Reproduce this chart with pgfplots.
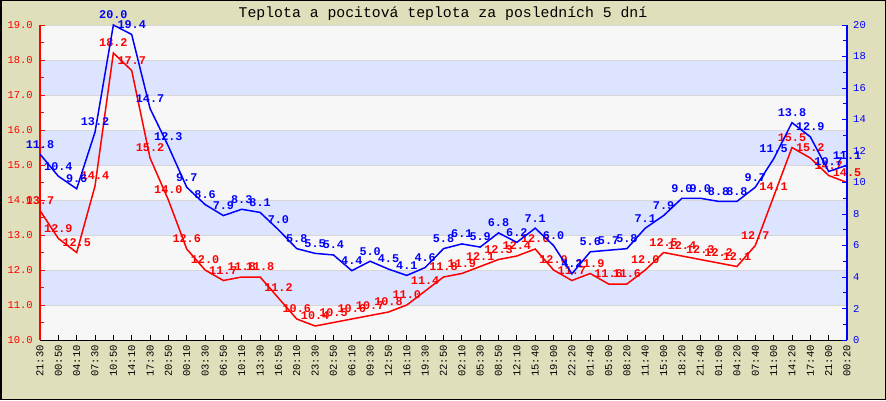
\documentclass[border=0pt]{standalone}
\usepackage{pgfplots}
\usepackage{pgfplotstable}
\pgfplotsset{compat=1.18}
\usepackage{fontspec}
\setmainfont{Liberation Mono}
\definecolor{bgk}{RGB}{224,223,187}
\definecolor{bandblue}{RGB}{221,228,255}
\definecolor{bandgray}{RGB}{247,247,247}
\definecolor{gridg}{RGB}{215,215,215}
\newcommand\tickfont{\fontsize{10.5}{11}\selectfont}
\newcommand\lblfont{\fontsize{11.8}{12}\selectfont\bfseries}

\pgfplotstableread{
x r b
0 13.7 11.8
1 12.9 10.4
2 12.5 9.6
3 14.4 13.2
4 18.2 20.0
5 17.7 19.4
6 15.2 14.7
7 14.0 12.3
8 12.6 9.7
9 12.0 8.6
10 11.7 7.9
11 11.8 8.3
12 11.8 8.1
13 11.2 7.0
14 10.6 5.8
15 10.4 5.5
16 10.5 5.4
17 10.6 4.4
18 10.7 5.0
19 10.8 4.5
20 11.0 4.1
21 11.4 4.6
22 11.8 5.8
23 11.9 6.1
24 12.1 5.9
25 12.3 6.8
26 12.4 6.2
27 12.6 7.1
28 12.0 6.0
29 11.7 4.2
30 11.9 5.6
31 11.6 5.7
32 11.6 5.8
33 12.0 7.1
34 12.5 7.9
35 12.4 9.0
36 12.3 9.0
37 12.2 8.8
38 12.1 8.8
39 12.7 9.7
40 14.1 11.5
41 15.5 13.8
42 15.2 12.9
43 14.7 10.7
44 14.5 11.1
}\datatable

\begin{document}
\begin{tikzpicture}
\path[use as bounding box] (0,0) rectangle (886pt,400pt);
\fill[bgk] (0,0) rectangle (886pt,400pt);
\draw[black,line width=1.5pt] (0.75pt,0.75pt) rectangle (885.25pt,399.25pt);
\node[font=\fontsize{14.8}{15}\selectfont] at (443pt,386pt) {Teplota a pocitová teplota za posledních 5 dní};

\begin{axis}[
  at={(40pt,60pt)}, anchor=south west, scale only axis,
  width=807pt, height=315pt,
  xmin=0, xmax=44, ymin=10, ymax=19,
  clip=false, axis on top,
  axis background/.style={fill=bandgray},
  axis x line*=bottom, axis y line*=left,
  x axis line style={black,line width=1pt},
  y axis line style={red,line width=1.6pt},
  xtick={0,...,44},
  xticklabels={21:30,00:50,04:10,07:30,10:50,14:10,17:30,20:50,00:10,03:30,06:50,10:10,13:30,16:50,20:10,23:30,02:50,06:10,09:30,12:50,16:10,19:30,22:50,02:10,05:30,08:50,12:10,15:40,19:00,22:20,01:40,05:00,08:20,11:40,15:00,18:20,21:40,01:00,04:20,07:40,11:00,14:20,17:40,21:00,00:20},
  xticklabel style={rotate=90, anchor=east, font=\tickfont, inner sep=0pt},
  xticklabel shift=5pt,
  tick align=inside, major tick length=5pt, minor tick length=4pt,
  xtick style={black, line width=0.8pt},
  ytick={10,...,19}, minor y tick num=1,
  ytick style={red, line width=0.8pt},
  yticklabel style={red, font=\tickfont, inner sep=0pt,
    /pgf/number format/.cd, fixed, fixed zerofill, precision=1},
  yticklabel shift=7pt,
  /pgf/number format/assume math mode=true,
]
\fill[bandblue] (axis cs:0,11) rectangle (axis cs:44,12);
\fill[bandblue] (axis cs:0,13) rectangle (axis cs:44,14);
\fill[bandblue] (axis cs:0,15) rectangle (axis cs:44,16);
\fill[bandblue] (axis cs:0,17) rectangle (axis cs:44,18);
\pgfplotsinvokeforeach{11,...,19}{\draw[gridg, line width=0.8pt] (axis cs:0,#1) -- (axis cs:44,#1);}
\addplot[red, line width=1.5pt, mark=none,
  nodes near coords={\pgfmathprintnumber[fixed,fixed zerofill,precision=1,assume math mode=true]{\pgfplotspointmeta}},
  every node near coord/.append style={font=\lblfont, text=red, anchor=center, yshift=10pt, inner sep=0pt}]
  table[x=x, y=r] {\datatable};
\end{axis}

\begin{axis}[
  at={(40pt,60pt)}, anchor=south west, scale only axis,
  width=807pt, height=315pt,
  xmin=0, xmax=44, ymin=0, ymax=20,
  clip=false,
  axis x line=none, axis y line*=right,
  xtick=\empty,
  y axis line style={blue,line width=1.3pt},
  tick align=inside, major tick length=5pt, minor tick length=4pt,
  ytick={0,2,...,20}, minor y tick num=1,
  ytick style={blue, line width=0.8pt},
  yticklabel style={blue, font=\tickfont, inner sep=0pt, anchor=west},
  yticklabel shift=6pt,
  /pgf/number format/assume math mode=true,
]
\addplot[blue, line width=1.5pt, mark=none,
  nodes near coords={\pgfmathprintnumber[fixed,fixed zerofill,precision=1,assume math mode=true]{\pgfplotspointmeta}},
  every node near coord/.append style={font=\lblfont, text=blue, anchor=center, yshift=10pt, inner sep=0pt}]
  table[x=x, y=b] {\datatable};
\end{axis}
\end{tikzpicture}
\end{document}
